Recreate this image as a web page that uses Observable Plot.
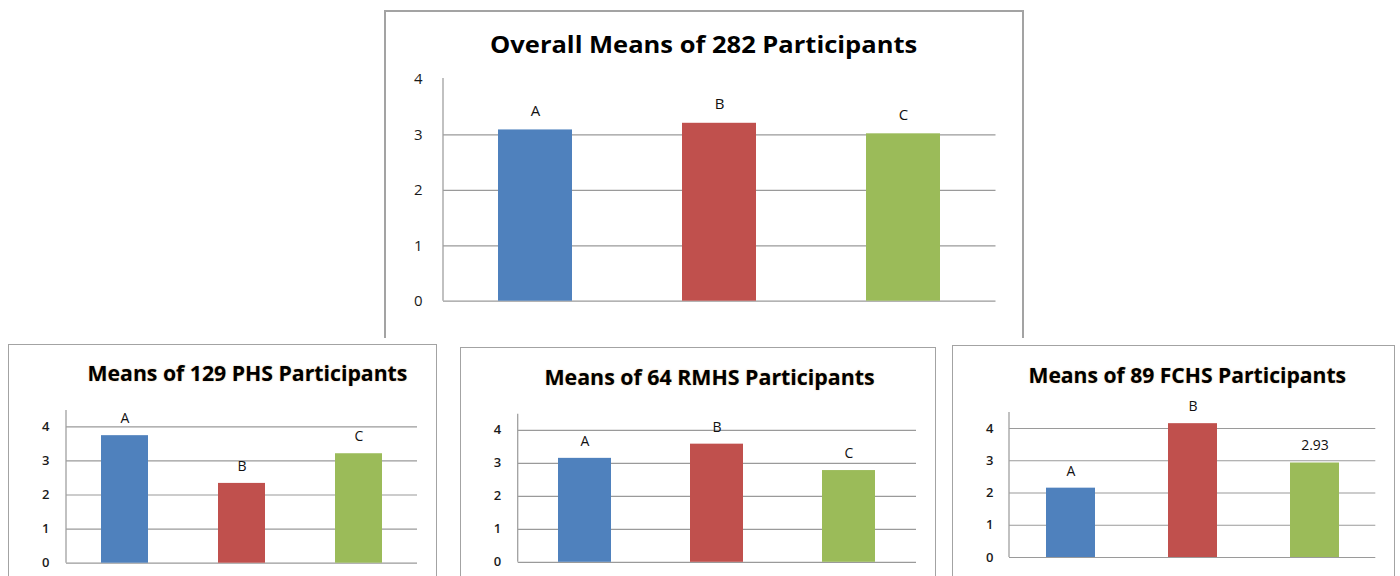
<!DOCTYPE html>
<html>
<head>
<meta charset="utf-8">
<script src="https://cdn.jsdelivr.net/npm/d3@7"></script>
<script src="https://cdn.jsdelivr.net/npm/@observablehq/plot@0.6"></script>
<style>
  html, body { margin: 0; padding: 0; background: #fff; }
  #root { position: relative; width: 1400px; height: 576px; overflow: hidden; background: #fff; font-family: "Open Sans", sans-serif; }
  .panel { position: absolute; box-sizing: border-box; border: 1.5px solid #a3a3a3; border-bottom: none; }
  .title { position: absolute; white-space: nowrap; font-weight: 700; color: #000; transform-origin: 50% 50%; }
  .title.small { text-shadow: 0 0 1.5px rgba(200,130,40,0.55); }
  .chart { position: absolute; }
  .chart svg { overflow: visible; }
  .bold-ticks g[aria-label="y-axis tick label"] text { font-weight: 600; }
</style>
</head>
<body>
<div id="root"></div>
<script>
// ---- data ----
const categories = ["A", "B", "C"];
const barColors = ["#4F81BD", "#C0504D", "#9BBB59"];
const yTicks = [0, 1, 2, 3, 4];

const overallTitle = "Overall Means of 282 Participants";
const overallMeans = [3.09, 3.21, 3.02];
const overallLabels = ["A", "B", "C"];

const phsTitle = "Means of 129 PHS Participants";
const phsMeans = [3.74, 2.34, 3.21];
const phsLabels = ["A", "B", "C"];

const rmhsTitle = "Means of 64 RMHS Participants";
const rmhsMeans = [3.15, 3.58, 2.78];
const rmhsLabels = ["A", "B", "C"];

const fchsTitle = "Means of 89 FCHS Participants";
const fchsMeans = [2.15, 4.15, 2.93];
const fchsLabels = ["A", "B", "2.93"];

// ---- layout ----
const root = document.getElementById("root");

function yAxisLine(top, color) {
  return (index, scales, values, dims) => {
    const ns = "http://www.w3.org/2000/svg";
    const l = document.createElementNS(ns, "line");
    const x = dims.marginLeft;
    l.setAttribute("x1", x); l.setAttribute("x2", x);
    l.setAttribute("y1", scales.y(top)); l.setAttribute("y2", scales.y(0));
    l.setAttribute("stroke", color);
    l.setAttribute("stroke-width", 1.3);
    return l;
  };
}

function makePanel(cfg) {
  const p = document.createElement("div");
  p.className = "panel";
  Object.assign(p.style, {left: cfg.panel[0] + "px", top: cfg.panel[1] + "px",
    width: cfg.panel[2] + "px", height: cfg.panel[3] + "px", borderWidth: cfg.borderW + "px"});
  p.style.borderBottom = "none";
  root.appendChild(p);

  const data = categories.map((c, i) => ({cat: c, value: cfg.values[i], label: cfg.labels[i]}));
  const chart = Plot.plot({
    width: cfg.panel[2],
    height: cfg.panel[3],
    marginLeft: cfg.m[0], marginRight: cfg.m[1], marginTop: cfg.m[2], marginBottom: cfg.m[3],
    style: {fontFamily: "Open Sans, sans-serif", fontSize: cfg.tickFont + "px", color: "#1a1a1a", background: "transparent", overflow: "visible"},
    x: {type: "band", domain: categories, paddingInner: 0.6, paddingOuter: 0.3, axis: null},
    y: {domain: [0, 4], axis: null},
    color: {domain: categories, range: barColors},
    marks: [
      Plot.ruleY(cfg.grid, {stroke: "#9a9a9a", strokeWidth: 1.2}),
      yAxisLine(cfg.axisTop, "#a0a0a0"),
      Plot.axisY({ticks: yTicks, tickSize: 0, tickPadding: cfg.tickPad, fontSize: cfg.tickFont, fill: "#1a1a1a", tickFormat: d3.format("d"), label: null}),
      Plot.barY(data, {x: "cat", y: "value", fill: "cat"}),
      Plot.text(data, {x: "cat", y: "value", text: "label", dy: cfg.labelDy, fontSize: cfg.labelFont, fill: "#111"})
    ]
  });
  const wrap = document.createElement("div");
  wrap.className = "chart" + (cfg.boldTicks ? " bold-ticks" : "");
  Object.assign(wrap.style, {left: cfg.panel[0] + "px", top: cfg.panel[1] + "px"});
  wrap.appendChild(chart);
  root.appendChild(wrap);

  const t = document.createElement("div");
  t.className = "title" + (cfg.glow ? " small" : "");
  t.textContent = cfg.title;
  t.style.fontSize = cfg.titleFont + "px";
  root.appendChild(t);
  const w = t.offsetWidth, h = t.offsetHeight;
  const s = cfg.titleWidth / w;
  t.style.left = (cfg.titlePos[0] - w / 2) + "px";
  t.style.top = (cfg.titlePos[1] - h / 2) + "px";
  t.style.transform = "scaleX(" + s + ")";
}

makePanel({panel: [384, 10, 640, 328], borderW: 2, m: [59, 28.5, 69, 37.3],
  values: overallMeans, labels: overallLabels, title: overallTitle,
  grid: [0, 1, 2, 3], axisTop: 4.02, tickPad: 21, tickFont: 15, labelFont: 15, labelDy: -19,
  titlePos: [703, 44], titleFont: 23, titleWidth: 427, boldTicks: false, glow: false});

makePanel({panel: [8, 344, 429, 232], borderW: 1.5, m: [58, 20, 82.3, 13.3],
  values: phsMeans, labels: phsLabels, title: phsTitle,
  grid: yTicks, axisTop: 4.48, tickPad: 17, tickFont: 13, labelFont: 14, labelDy: -17,
  titlePos: [247, 373], titleFont: 20.5, titleWidth: 320, boldTicks: true, glow: true});

makePanel({panel: [460, 346.5, 476, 229.5], borderW: 1.5, m: [57.7, 20, 82.8, 14.7],
  values: rmhsMeans, labels: rmhsLabels, title: rmhsTitle,
  grid: yTicks, axisTop: 4.49, tickPad: 17, tickFont: 13, labelFont: 14, labelDy: -17,
  titlePos: [709, 377], titleFont: 20.5, titleWidth: 330, boldTicks: true, glow: true});

makePanel({panel: [952, 345, 443, 231], borderW: 1.5, m: [57, 19.7, 83, 19],
  values: fchsMeans, labels: fchsLabels, title: fchsTitle,
  grid: yTicks, axisTop: 4.5, tickPad: 16, tickFont: 13, labelFont: 14, labelDy: -17,
  titlePos: [1187, 375], titleFont: 20.5, titleWidth: 318, boldTicks: true, glow: true});
</script>
</body>
</html>
